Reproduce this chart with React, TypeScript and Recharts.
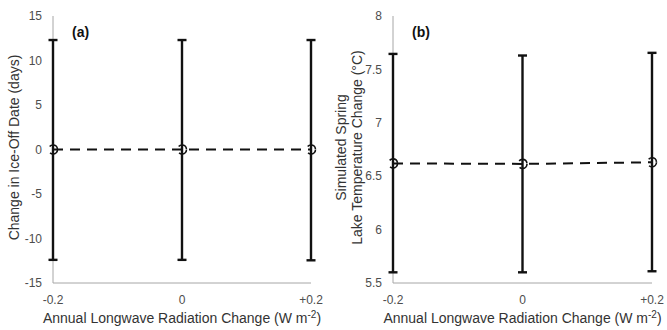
import { ComposedChart, Line, XAxis, YAxis, ErrorBar } from 'recharts'

const radiation = [-0.2, 0, 0.2]
const radiationTicks = [-0.2, 0, 0.2]

// panel (a): change in ice-off date (days)
const iceOff = [0, 0, 0]
const iceOffLow = [-12.4, -12.4, -12.45]
const iceOffHigh = [12.3, 12.3, 12.3]
const iceOffTicks = [-15, -10, -5, 0, 5, 10, 15]

// panel (b): simulated spring lake temperature change (°C)
const lakeTemp = [6.62, 6.615, 6.63]
const lakeTempLow = [5.6, 5.6, 5.61]
const lakeTempHigh = [7.645, 7.63, 7.655]
const lakeTempTicks = [5.5, 6, 6.5, 7, 7.5, 8]

const FONT = '"Liberation Sans", Arial, sans-serif'
const AXIS = '#a6a6a6'
const TICK = '#4d4d4d'
const TITLE = '#333'

const rows = (vals: number[], lo: number[], hi: number[]) =>
  radiation.map((x, i) => ({ x, v: vals[i], err: [vals[i] - lo[i], hi[i] - vals[i]] }))

const fmtX = (v: number) => (v > 0 ? `+${v}` : `${v}`)

const XTitle = ({ viewBox }: any) => (
  <text x={viewBox.x + viewBox.width / 2} y={viewBox.y + 40} textAnchor="middle"
        fontFamily={FONT} fontSize={14} fill={TITLE}>
    Annual Longwave Radiation Change (W m<tspan dy={-5} fontSize={10}>-2</tspan><tspan dy={5}>)</tspan>
  </text>
)

const yTitle = (lines: string[], xs: number[]) => ({ viewBox }: any) => {
  const cy = viewBox.y + viewBox.height / 2 - 2
  return (
    <g>
      {lines.map((l, i) => (
        <text key={i} x={xs[i]} y={cy} transform={`rotate(-90 ${xs[i]} ${cy})`} textAnchor="middle"
              dominantBaseline="central" fontFamily={FONT} fontSize={14} fill={TITLE}>{l}</text>
      ))}
    </g>
  )
}

function Panel(props: {
  data: any[]; domain: [number, number]; ticks: number[]; yW: number; right: number
  left: number; width: number; tag: string; title: string[]; titleX: number[]
}) {
  const { data, domain, ticks, yW, right, left, width, tag, title, titleX } = props
  const extra: any = { zIndex: 900 } // keep error bars above the axis line
  return (
    <div style={{ position: 'absolute', left, top: 0, width, height: 330 }}>
      <ComposedChart width={width} height={330} data={data} margin={{ top: 16, right, left: 0, bottom: 0 }}>
        <XAxis dataKey="x" type="number" domain={[-0.2, 0.2]} ticks={radiationTicks} tickFormatter={fmtX}
               height={47} stroke={AXIS} tickLine={false} tickMargin={6}
               tick={{ fontFamily: FONT, fontSize: 12, fill: TICK }} label={<XTitle />} />
        <YAxis type="number" domain={domain} ticks={ticks} width={yW} stroke={AXIS} tickLine={false}
               tickMargin={5} interval={0}
               tick={{ fontFamily: FONT, fontSize: 12, fill: TICK }}
               label={{ content: yTitle(title, titleX) } as any} />
        <Line dataKey="v" stroke="#111" strokeWidth={2} strokeDasharray="10 7" isAnimationActive={false}
              dot={{ r: 4.5, fill: 'none', stroke: '#111', strokeWidth: 1.6, clipDot: false } as any}
              activeDot={false} {...extra}>
          <ErrorBar dataKey="err" direction="y" width={4.5} stroke="#111" strokeWidth={2.4} {...extra} />
        </Line>
      </ComposedChart>
      <div style={{ position: 'absolute', left: yW + 19, top: 24, fontFamily: FONT, fontSize: 14,
                    fontWeight: 'bold', color: '#111' }}>{tag}</div>
    </div>
  )
}

export default function App() {
  return (
    <div style={{ position: 'absolute', left: 0, top: 0, width: 667, height: 330, background: '#fff' }}>
      <Panel data={rows(iceOff, iceOffLow, iceOffHigh)} domain={[-15, 15]} ticks={iceOffTicks}
             yW={53} right={22} left={0} width={333} tag="(a)"
             title={['Change in Ice-Off Date (days)']} titleX={[14]} />
      <Panel data={rows(lakeTemp, lakeTempLow, lakeTempHigh)} domain={[5.5, 8]} ticks={lakeTempTicks}
             yW={60} right={15} left={333} width={334} tag="(b)"
             title={['Simulated Spring', 'Lake Temperature Change (°C)']} titleX={[8, 24]} />
    </div>
  )
}
